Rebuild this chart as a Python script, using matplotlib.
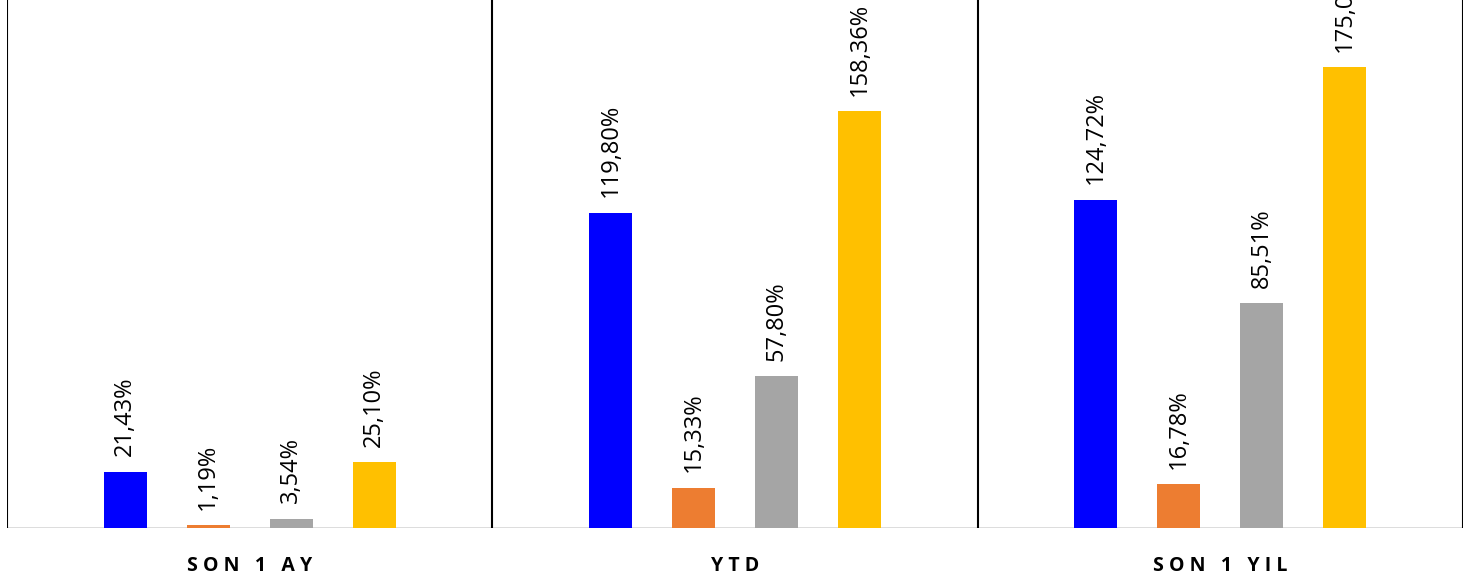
import matplotlib.pyplot as plt
import numpy as np

categories = ["S O N   1   A Y", "Y T D", "S O N   1   Y I L"]
series_colors = ["#0000FF", "#ED7D31", "#A5A5A5", "#FFC000"]
values = [
    [21.43, 119.80, 124.72],
    [1.19, 15.33, 16.78],
    [3.54, 57.80, 85.51],
    [25.10, 158.36, 175.07],
]

plt.rcParams['font.family'] = ['Open Sans', 'DejaVu Sans']

fig = plt.figure(figsize=(14.72, 5.8), dpi=100)
ax = fig.add_axes([7 / 1472, 52 / 580, 1456 / 1472, 528 / 580])

x = np.arange(len(categories))
step = 0.171
width = 0.0886
for i, (vals, col) in enumerate(zip(values, series_colors)):
    pos = x + (i - 1.5) * step
    ax.bar(pos, vals, width=width, color=col, zorder=2)
    for p, v in zip(pos, vals):
        ax.annotate(f"{v:.2f}%".replace(".", ","), (p, v), xytext=(0, 11),
                    textcoords="offset points", rotation=90, ha="center",
                    va="bottom", fontsize=17, annotation_clip=False)

ax.set_xlim(-0.5, 2.5)
ax.set_ylim(0, 200.5)
for b in [-0.5, 0.5, 1.5, 2.5]:
    ax.axvline(b, color="black", lw=1.5, zorder=3)
ax.axhline(0, color="#D9D9D9", lw=2, zorder=1)

for s in ax.spines.values():
    s.set_visible(False)
ax.set_yticks([])
ax.set_xticks(x)
ax.set_xticklabels(categories, fontsize=14, fontweight="bold")
ax.tick_params(axis="x", length=0, pad=20)

fig.savefig("out.png", dpi=100)
